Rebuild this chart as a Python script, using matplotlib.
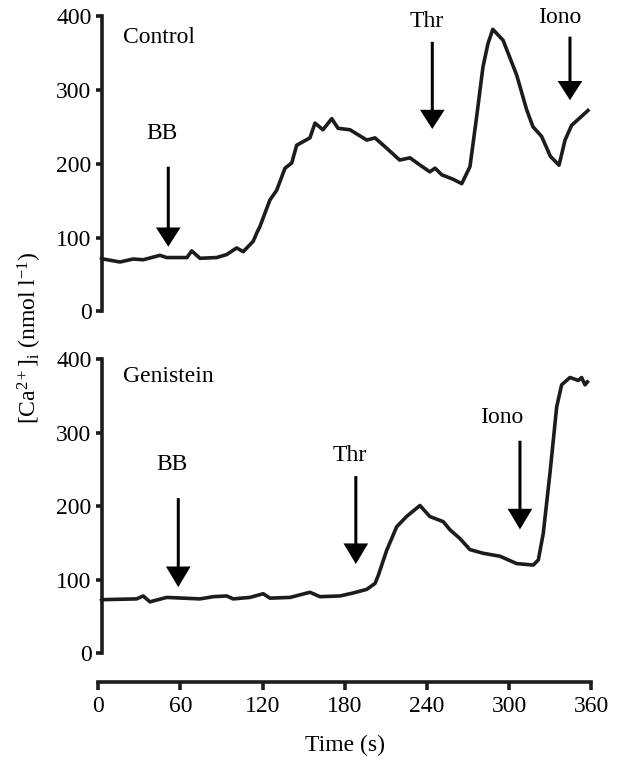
import matplotlib
matplotlib.use("Agg")
import matplotlib.pyplot as plt

plt.rcParams['font.family'] = ['Liberation Serif', 'DejaVu Serif']
plt.rcParams['mathtext.fontset'] = 'custom'
plt.rcParams['mathtext.rm'] = 'Liberation Serif'
plt.rcParams['mathtext.it'] = 'Liberation Serif:italic'

# Control trace: time (s) and [Ca2+]i (nmol/l)
control_t = [2.5, 3.7, 15.8, 25.5, 32.8, 45, 49.9, 59.6, 64.7, 68.2, 74.2, 86.4,
             93.7, 101, 105.8, 113.1, 115.6, 118, 125.3, 130.2, 136.3, 141.2,
             144.8, 154.5, 158.2, 164, 170.4, 175, 183.7, 196, 202, 210.5, 220,
             227.5, 235, 242, 245.8, 250.7, 259, 265.3, 271.3, 276.2, 280.8,
             284.5, 288, 295.5, 305.4, 312.7, 317.3, 323.6, 330, 336.3, 340.7,
             345.5, 357.4]
control_ca = [72, 71, 67, 71, 70, 76, 73, 73, 73, 82, 72, 73,
              77, 86, 81, 95, 106, 115, 151, 164, 194, 201,
              225, 235, 255, 246, 261, 248, 246, 232, 235, 221, 205,
              208, 198, 189, 194, 185, 179, 173, 196, 264, 331,
              363, 382, 367, 320, 273, 250, 237, 210, 198, 232,
              252, 272]

# Genistein trace
genistein_t = [2.5, 3.7, 28, 32.8, 37.7, 49.9, 62, 74.2, 84, 93.7, 98.5, 110.7,
               120.4, 125.3, 140, 154.5, 161.8, 176.4, 186, 196, 202, 204.4,
               210.5, 217.8, 225, 234.8, 242, 251.8, 256.7, 264, 271.3, 281,
               293.2, 305.4, 317.5, 321.2, 324.8, 329.7, 334.6, 338.2, 344.3,
               350.4, 352.8, 355.3, 357]
genistein_ca = [72, 73, 74, 78, 70, 76, 75, 74, 77, 78, 74, 76,
                81, 75, 76, 83, 77, 78, 82, 87, 95, 106,
                140, 172, 186, 201, 186, 179, 168, 156, 141, 136,
                132, 122, 120, 127, 163, 245, 335, 365, 375,
                371, 375, 365, 369]

yticks = [0, 100, 200, 300, 400]
xticks = [0, 60, 120, 180, 240, 300, 360]

# Arrow annotations: (label, x, label x, label y, shaft top, tip)
control_arrows = [("BB", 51.1, 46.3, 241, 196, 87.7),
                  ("Thr", 243.8, 239.7, 392, 365, 247),
                  ("Iono", 344.3, 337, 398, 372, 286)]
genistein_arrows = [("BB", 58.4, 53.6, 257, 211, 90),
                    ("Thr", 188, 183.7, 269.5, 241, 121.4),
                    ("Iono", 307.8, 294.5, 320.7, 289, 168.5)]

ink = '#1c1c1c'
fs = 17

fig = plt.figure(figsize=(6.2, 7.61), dpi=100)
ax1 = fig.add_axes([0.1585, 0.5907, 0.7955, 0.3883])
ax2 = fig.add_axes([0.1585, 0.1415, 0.7955, 0.3866])


def style(ax, show_x):
    ax.set_xlim(0, 360)
    ax.set_ylim(0, 400)
    for s in ['top', 'right']:
        ax.spines[s].set_visible(False)
    ax.spines['left'].set_position(('data', 2.7))
    ax.spines['left'].set_linewidth(2.6)
    ax.spines['left'].set_color(ink)
    ax.set_yticks(yticks)
    ax.tick_params(axis='y', direction='out', length=4.5, width=2.6,
                   colors=ink, labelsize=fs, pad=3, labelcolor='black')
    if show_x:
        ax.spines['bottom'].set_position(('outward', 21))
        ax.spines['bottom'].set_linewidth(2.6)
        ax.spines['bottom'].set_color(ink)
        ax.set_xticks(xticks)
        ax.tick_params(axis='x', direction='out', length=6, width=2.6,
                       colors=ink, labelsize=fs, pad=4, labelcolor='black')
    else:
        ax.spines['bottom'].set_visible(False)
        ax.set_xticks([])


def arrows(ax, items, head_len):
    for label, x, lx, ly, top, tip in items:
        ax.arrow(x, top, 0, tip - top, width=2.2, head_width=18,
                 head_length=head_len, length_includes_head=True,
                 color='black', lw=0)
        ax.text(lx, ly, label, ha='center', va='center', fontsize=fs)


style(ax1, False)
style(ax2, True)

ax1.plot(control_t, control_ca, color=ink, lw=2.6, solid_joinstyle='round')
ax2.plot(genistein_t, genistein_ca, color=ink, lw=2.6, solid_joinstyle='round')

arrows(ax1, control_arrows, 26)
arrows(ax2, genistein_arrows, 28)

ax1.text(18, 371.5, "Control", ha='left', va='center', fontsize=fs)
ax2.text(18, 376, "Genistein", ha='left', va='center', fontsize=fs)

fig.text(30 / 620, 1 - 338 / 761,
         r'[Ca$^{2+}$]$_{\mathrm{i}}$ (nmol l$^{\mathrm{-1}}$)',
         rotation=90, ha='center', va='center', fontsize=fs)
fig.text(345 / 620, 1 - 745 / 761, "Time (s)", ha='center', va='center',
         fontsize=fs)

fig.savefig("out.png", dpi=100)
